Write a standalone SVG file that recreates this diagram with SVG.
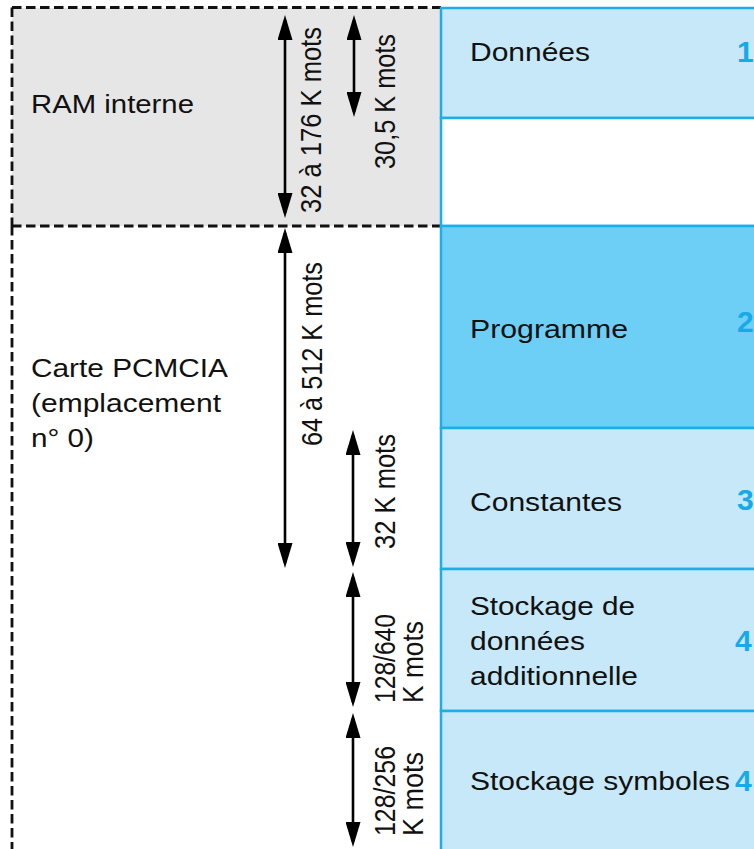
<svg xmlns="http://www.w3.org/2000/svg" width="754" height="849" viewBox="0 0 754 849">
  <defs>
    <style>
      .lbl { font-family: "Liberation Sans", Arial, sans-serif; font-size: 25px; fill: #111; }
      .num { font-family: "Liberation Sans", Arial, sans-serif; font-size: 30px; font-weight: bold; fill: #16aaea; }
      .dash { stroke: #111; stroke-width: 2.8; stroke-dasharray: 9.5 4.5; fill: none; }
      .seg { stroke: #1aaeea; stroke-width: 2.5; }
      .light { fill: #c7e8f8; }
      .mid { fill: #6dcff6; }
      .blank { fill: #ffffff; }
      .dim { stroke: #000; stroke-width: 2.6; fill: none; marker-start: url(#head); marker-end: url(#head); }
    </style>
    <marker id="head" viewBox="0 0 25 15" markerWidth="25" markerHeight="15" markerUnits="userSpaceOnUse" refX="20" refY="7.5" orient="auto-start-reverse">
      <path d="M0,0 L25,7.5 L0,15 z" fill="#000"/>
    </marker>
  </defs>

  <rect width="754" height="849" fill="#ffffff"/>

  <!-- memory areas (dashed outline) -->
  <g id="ram-interne">
    <rect x="12" y="8" width="429" height="218" fill="#e6e6e6"/>
    <line class="dash" x1="12" y1="7.5" x2="441" y2="7.5"/>
    <line class="dash" x1="12" y1="226" x2="441" y2="226"/>
    <line class="dash" x1="12" y1="7.5" x2="12" y2="226"/>
    <text class="lbl" x="31" y="113" textLength="163" lengthAdjust="spacingAndGlyphs">RAM interne</text>
  </g>

  <g id="carte-pcmcia">
    <line class="dash" x1="12" y1="226" x2="12" y2="849"/>
    <text class="lbl" x="31" y="377" textLength="197" lengthAdjust="spacingAndGlyphs">Carte PCMCIA</text>
    <text class="lbl" x="31" y="412" textLength="190" lengthAdjust="spacingAndGlyphs">(emplacement</text>
    <text class="lbl" x="31" y="447" textLength="63" lengthAdjust="spacingAndGlyphs">n° 0)</text>
  </g>

  <!-- memory segments -->
  <g id="seg-donnees">
    <rect class="seg light" x="441" y="8" width="320" height="110"/>
    <text class="lbl" x="470" y="61" textLength="120" lengthAdjust="spacingAndGlyphs">Données</text>
    <text class="num" x="737" y="62">1</text>
  </g>
  <g id="seg-libre">
    <rect class="seg blank" x="441" y="118" width="320" height="108"/>
  </g>
  <g id="seg-programme">
    <rect class="seg mid" x="441" y="226" width="320" height="202"/>
    <text class="lbl" x="470" y="338" textLength="158" lengthAdjust="spacingAndGlyphs">Programme</text>
    <text class="num" x="737" y="332">2</text>
  </g>
  <g id="seg-constantes">
    <rect class="seg light" x="441" y="428" width="320" height="141"/>
    <text class="lbl" x="470" y="511" textLength="152" lengthAdjust="spacingAndGlyphs">Constantes</text>
    <text class="num" x="737" y="510">3</text>
  </g>
  <g id="seg-stockage-donnees">
    <rect class="seg light" x="441" y="569" width="320" height="142"/>
    <text class="lbl" x="470" y="615" textLength="165" lengthAdjust="spacingAndGlyphs">Stockage de</text>
    <text class="lbl" x="470" y="650" textLength="115" lengthAdjust="spacingAndGlyphs">données</text>
    <text class="lbl" x="470" y="685" textLength="168" lengthAdjust="spacingAndGlyphs">additionnelle</text>
    <text class="num" x="735" y="651">4</text>
  </g>
  <g id="seg-stockage-symboles">
    <rect class="seg light" x="441" y="711" width="320" height="150"/>
    <text class="lbl" x="470" y="790" textLength="260" lengthAdjust="spacingAndGlyphs">Stockage symboles</text>
    <text class="num" x="735" y="791">4</text>
  </g>

  <!-- size dimensions -->
  <g id="connectors">
    <line class="dim" x1="285" y1="20" x2="285" y2="213"/>
    <line class="dim" x1="354" y1="20" x2="354" y2="112"/>
    <line class="dim" x1="285" y1="233" x2="285" y2="563"/>
    <line class="dim" x1="353" y1="435" x2="353" y2="562"/>
    <line class="dim" x1="353" y1="577" x2="353" y2="702"/>
    <line class="dim" x1="353" y1="718" x2="353" y2="842"/>

    <text class="lbl" transform="translate(321,213) scale(1.17,1) rotate(-90)" textLength="186" lengthAdjust="spacingAndGlyphs">32 à 176 K mots</text>
    <text class="lbl" transform="translate(395,169) scale(1.17,1) rotate(-90)" textLength="135" lengthAdjust="spacingAndGlyphs">30,5 K mots</text>
    <text class="lbl" transform="translate(322,446) scale(1.17,1) rotate(-90)" textLength="184" lengthAdjust="spacingAndGlyphs">64 à 512 K mots</text>
    <text class="lbl" transform="translate(395,549) scale(1.17,1) rotate(-90)" textLength="115" lengthAdjust="spacingAndGlyphs">32 K mots</text>
    <text class="lbl" transform="translate(395,703) scale(1.17,1) rotate(-90)" textLength="89" lengthAdjust="spacingAndGlyphs">128/640</text>
    <text class="lbl" transform="translate(423,703) scale(1.17,1) rotate(-90)" textLength="82" lengthAdjust="spacingAndGlyphs">K mots</text>
    <text class="lbl" transform="translate(395,836) scale(1.17,1) rotate(-90)" textLength="90" lengthAdjust="spacingAndGlyphs">128/256</text>
    <text class="lbl" transform="translate(423,836) scale(1.17,1) rotate(-90)" textLength="84" lengthAdjust="spacingAndGlyphs">K mots</text>
  </g>
</svg>
